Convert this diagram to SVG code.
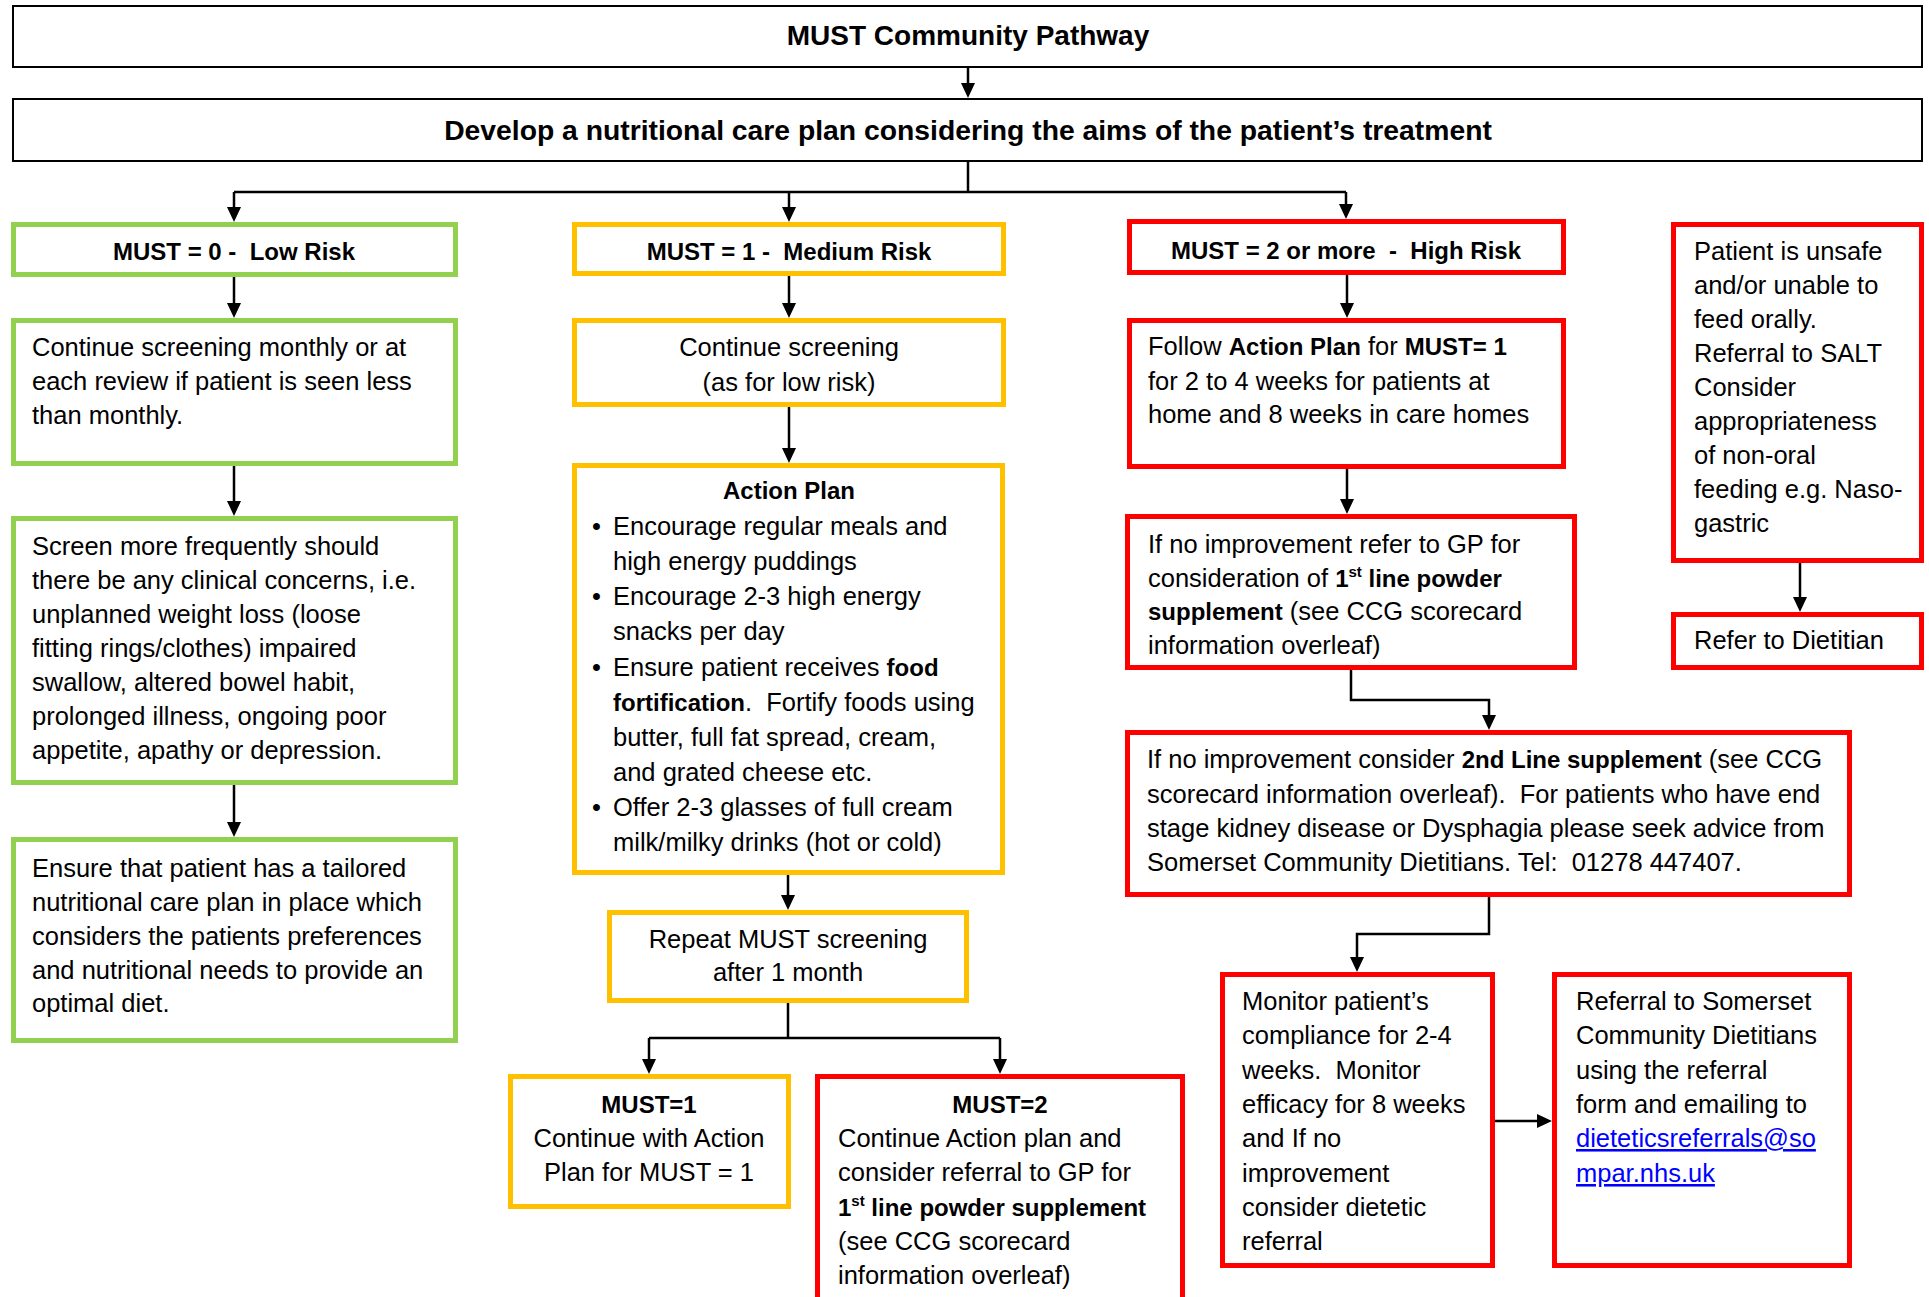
<svg xmlns="http://www.w3.org/2000/svg" width="1929" height="1297" viewBox="0 0 1929 1297">
<style>
.box{fill:#fff;stroke-width:5}
.g{stroke:#92D050}.y{stroke:#FFC000}.r{stroke:#FF0000}
.k{fill:#fff;stroke:#000;stroke-width:2}
text{font-family:"Liberation Sans",Arial,sans-serif;font-size:25.5px;fill:#000}
.c{text-anchor:middle}
.b{font-weight:bold;font-size:24px}
.ti{font-weight:bold;font-size:28px;text-anchor:middle}
.sup{font-size:15px}
.link{fill:#0000FF;text-decoration:underline}
.con{fill:none;stroke:#000;stroke-width:2.5}
</style>
<defs>
<marker id="ah" viewBox="0 0 15 14" refX="7" refY="7" markerWidth="15" markerHeight="14" markerUnits="userSpaceOnUse" orient="auto">
<path d="M0,0 L15,7 L0,14 z" fill="#000"/>
</marker>
</defs>
<rect width="1929" height="1297" fill="#fff"/>

<g id="connectors">
<path class="con" d="M968,68 V90" marker-end="url(#ah)"/>
<path class="con" d="M968,162 V192"/>
<path class="con" d="M234,192 H1346"/>
<path class="con" d="M234,192 V214" marker-end="url(#ah)"/>
<path class="con" d="M789,192 V214" marker-end="url(#ah)"/>
<path class="con" d="M1346,192 V211" marker-end="url(#ah)"/>
<path class="con" d="M234,277 V310" marker-end="url(#ah)"/>
<path class="con" d="M234,466 V508" marker-end="url(#ah)"/>
<path class="con" d="M234,785 V829" marker-end="url(#ah)"/>
<path class="con" d="M789,276 V310" marker-end="url(#ah)"/>
<path class="con" d="M789,407 V455" marker-end="url(#ah)"/>
<path class="con" d="M788,875 V902" marker-end="url(#ah)"/>
<path class="con" d="M788,1003 V1038 M649,1038 H1000"/>
<path class="con" d="M649,1038 V1066" marker-end="url(#ah)"/>
<path class="con" d="M1000,1038 V1066" marker-end="url(#ah)"/>
<path class="con" d="M1347,275 V310" marker-end="url(#ah)"/>
<path class="con" d="M1347,469 V506" marker-end="url(#ah)"/>
<path class="con" d="M1351,670 V700 H1489 V722" marker-end="url(#ah)"/>
<path class="con" d="M1489,897 V934 H1357 V964" marker-end="url(#ah)"/>
<path class="con" d="M1495,1121 H1544" marker-end="url(#ah)"/>
<path class="con" d="M1800,563 V604" marker-end="url(#ah)"/>
</g>

<g id="title">
<rect class="k" x="13" y="6" width="1909" height="61"/>
<text class="ti" x="968" y="45">MUST Community Pathway</text>
</g>

<g id="develop">
<rect class="k" x="13" y="99" width="1909" height="62"/>
<text class="ti" x="968" y="140" style="font-size:28.3px">Develop a nutritional care plan considering the aims of the patient’s treatment</text>
</g>

<g id="low-risk">
<rect class="box g" x="13.5" y="224.5" width="442" height="50"/>
<text class="b c" x="234" y="260" xml:space="preserve">MUST = 0 -  Low Risk</text>
</g>

<g id="low-continue">
<rect class="box g" x="13.5" y="320.5" width="442" height="143"/>
<text x="32" y="356">Continue screening monthly or at</text>
<text x="32" y="390">each review if patient is seen less</text>
<text x="32" y="424">than monthly.</text>
</g>

<g id="low-screen">
<rect class="box g" x="13.5" y="518.5" width="442" height="264"/>
<text x="32" y="555">Screen more frequently should</text>
<text x="32" y="589">there be any clinical concerns, i.e.</text>
<text x="32" y="623">unplanned weight loss (loose</text>
<text x="32" y="657">fitting rings/clothes) impaired</text>
<text x="32" y="691">swallow, altered bowel habit,</text>
<text x="32" y="725">prolonged illness, ongoing poor</text>
<text x="32" y="759">appetite, apathy or depression.</text>
</g>

<g id="low-ensure">
<rect class="box g" x="13.5" y="839.5" width="442" height="201"/>
<text x="32" y="877">Ensure that patient has a tailored</text>
<text x="32" y="911">nutritional care plan in place which</text>
<text x="32" y="945">considers the patients preferences</text>
<text x="32" y="979">and nutritional needs to provide an</text>
<text x="32" y="1012">optimal diet.</text>
</g>

<g id="medium-risk">
<rect class="box y" x="574.5" y="224.5" width="429" height="49"/>
<text class="b c" x="789" y="260" xml:space="preserve">MUST = 1 -  Medium Risk</text>
</g>

<g id="medium-continue">
<rect class="box y" x="574.5" y="320.5" width="429" height="84"/>
<text class="c" x="789" y="356">Continue screening</text>
<text class="c" x="789" y="391">(as for low risk)</text>
</g>

<g id="action-plan">
<rect class="box y" x="574.5" y="465.5" width="428" height="407"/>
<text class="b c" x="789" y="499">Action Plan</text>
<text x="592" y="535">•</text>
<text x="613" y="535">Encourage regular meals and</text>
<text x="613" y="570">high energy puddings</text>
<text x="592" y="605">•</text>
<text x="613" y="605">Encourage 2-3 high energy</text>
<text x="613" y="640">snacks per day</text>
<text x="592" y="676">•</text>
<text x="613" y="676">Ensure patient receives <tspan class="b">food</tspan></text>
<text x="613" y="711" xml:space="preserve"><tspan class="b">fortification</tspan>.  Fortify foods using</text>
<text x="613" y="746">butter, full fat spread, cream,</text>
<text x="613" y="781">and grated cheese etc.</text>
<text x="592" y="816">•</text>
<text x="613" y="816">Offer 2-3 glasses of full cream</text>
<text x="613" y="851">milk/milky drinks (hot or cold)</text>
</g>

<g id="repeat">
<rect class="box y" x="609.5" y="912.5" width="357" height="88"/>
<text class="c" x="788" y="948">Repeat MUST screening</text>
<text class="c" x="788" y="981">after 1 month</text>
</g>

<g id="must1">
<rect class="box y" x="510.5" y="1076.5" width="278" height="130"/>
<text class="b c" x="649" y="1113">MUST=1</text>
<text class="c" x="649" y="1147">Continue with Action</text>
<text class="c" x="649" y="1181">Plan for MUST = 1</text>
</g>

<g id="must2">
<rect class="box r" x="817.5" y="1076.5" width="365" height="240"/>
<text class="b c" x="1000" y="1113">MUST=2</text>
<text x="838" y="1147">Continue Action plan and</text>
<text x="838" y="1181">consider referral to GP for</text>
<text x="838" y="1216"><tspan class="b">1</tspan><tspan class="b sup" dy="-10">st</tspan><tspan class="b" dy="10"> line powder supplement</tspan></text>
<text x="838" y="1250">(see CCG scorecard</text>
<text x="838" y="1284">information overleaf)</text>
</g>

<g id="high-risk">
<rect class="box r" x="1129.5" y="221.5" width="434" height="51"/>
<text class="b c" x="1346" y="259" xml:space="preserve">MUST = 2 or more  -  High Risk</text>
</g>

<g id="follow">
<rect class="box r" x="1129.5" y="320.5" width="434" height="146"/>
<text x="1148" y="355">Follow <tspan class="b">Action Plan</tspan> for <tspan class="b">MUST= 1</tspan></text>
<text x="1148" y="390">for 2 to 4 weeks for patients at</text>
<text x="1148" y="423">home and 8 weeks in care homes</text>
</g>

<g id="gp">
<rect class="box r" x="1127.5" y="516.5" width="447" height="151"/>
<text x="1148" y="553">If no improvement refer to GP for</text>
<text x="1148" y="587">consideration of <tspan class="b">1</tspan><tspan class="b sup" dy="-10">st</tspan><tspan class="b" dy="10"> line powder</tspan></text>
<text x="1148" y="620"><tspan class="b">supplement</tspan> (see CCG scorecard</text>
<text x="1148" y="654">information overleaf)</text>
</g>

<g id="salt">
<rect class="box r" x="1673.5" y="224.5" width="248" height="336"/>
<text x="1694" y="260">Patient is unsafe</text>
<text x="1694" y="294">and/or unable to</text>
<text x="1694" y="328">feed orally.</text>
<text x="1694" y="362">Referral to SALT</text>
<text x="1694" y="396">Consider</text>
<text x="1694" y="430">appropriateness</text>
<text x="1694" y="464">of non-oral</text>
<text x="1694" y="498">feeding e.g. Naso-</text>
<text x="1694" y="532">gastric</text>
</g>

<g id="dietitian">
<rect class="box r" x="1673.5" y="614.5" width="248" height="53"/>
<text x="1694" y="649">Refer to Dietitian</text>
</g>

<g id="second-line">
<rect class="box r" x="1127.5" y="732.5" width="722" height="162"/>
<text x="1147" y="768">If no improvement consider <tspan class="b">2nd Line supplement</tspan> (see CCG</text>
<text x="1147" y="803" xml:space="preserve">scorecard information overleaf).  For patients who have end</text>
<text x="1147" y="837">stage kidney disease or Dysphagia please seek advice from</text>
<text x="1147" y="871" xml:space="preserve">Somerset Community Dietitians. Tel:  01278 447407.</text>
</g>

<g id="monitor">
<rect class="box r" x="1222.5" y="974.5" width="270" height="291"/>
<text x="1242" y="1010">Monitor patient’s</text>
<text x="1242" y="1044">compliance for 2-4</text>
<text x="1242" y="1079" xml:space="preserve">weeks.  Monitor</text>
<text x="1242" y="1113">efficacy for 8 weeks</text>
<text x="1242" y="1147">and If no</text>
<text x="1242" y="1182">improvement</text>
<text x="1242" y="1216">consider dietetic</text>
<text x="1242" y="1250">referral</text>
</g>

<g id="referral">
<rect class="box r" x="1554.5" y="974.5" width="295" height="291"/>
<text x="1576" y="1010">Referral to Somerset</text>
<text x="1576" y="1044">Community Dietitians</text>
<text x="1576" y="1079">using the referral</text>
<text x="1576" y="1113">form and emailing to</text>
<text class="link" x="1576" y="1147">dieteticsreferrals@so</text>
<text class="link" x="1576" y="1182">mpar.nhs.uk</text>
</g>
</svg>
